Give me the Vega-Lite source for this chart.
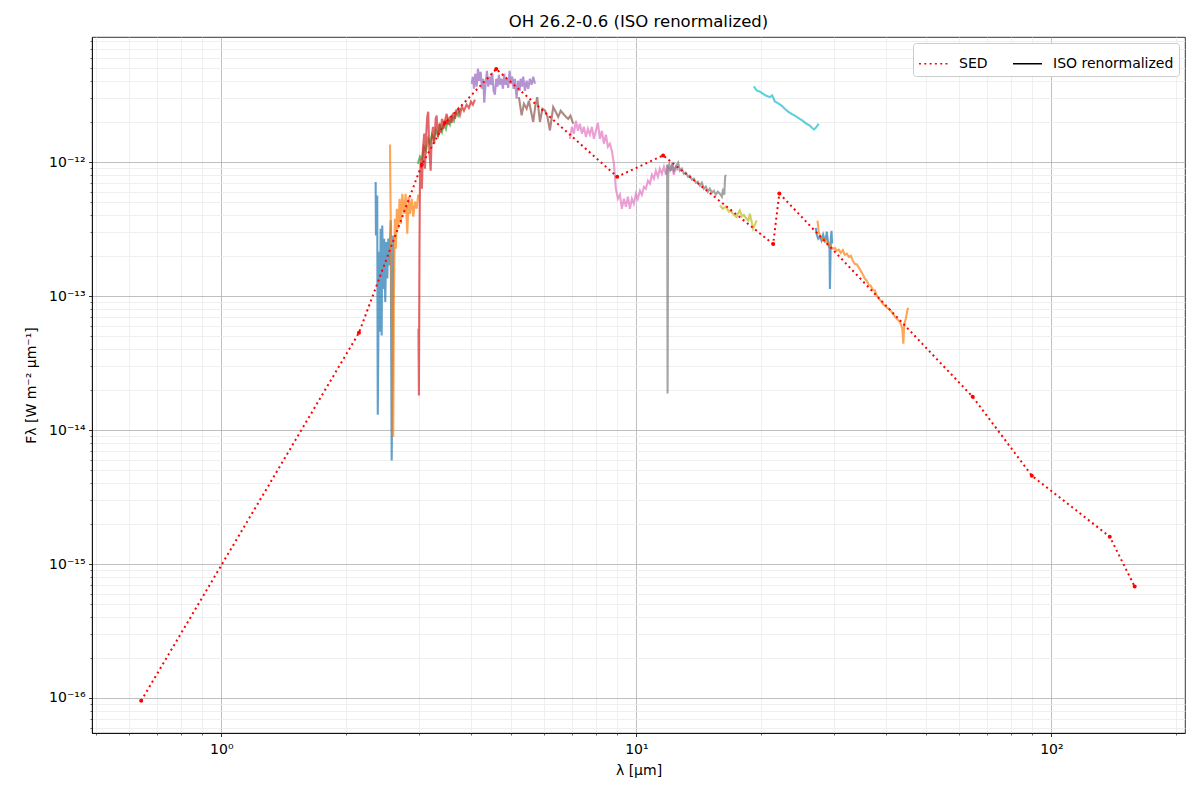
{
  "$schema": "https://vega.github.io/schema/vega-lite/v6.json",
  "width": 1093,
  "height": 696,
  "autosize": "none",
  "padding": {"left": 92, "top": 37, "right": 15, "bottom": 67},
  "background": "white",
  "title": {"text": "OH 26.2-0.6 (ISO renormalized)", "font": "DejaVu Sans", "fontSize": 16.5, "fontWeight": "normal", "color": "black", "offset": 4},
  "datasets": {
    "spec": [
      {"band": "1A", "lam": 2.354, "flux": 7.09e-13}, {"band": "1A", "lam": 2.358, "flux": 2.83e-13}, {"band": "1A", "lam": 2.375, "flux": 5.63e-13},
      {"band": "1A", "lam": 2.379, "flux": 5.08e-14}, {"band": "1A", "lam": 2.382, "flux": 1.30e-14}, {"band": "1A", "lam": 2.398, "flux": 2.14e-13},
      {"band": "1A", "lam": 2.411, "flux": 5.42e-14}, {"band": "1A", "lam": 2.420, "flux": 3.18e-13}, {"band": "1A", "lam": 2.434, "flux": 5.08e-14},
      {"band": "1A", "lam": 2.442, "flux": 3.36e-13}, {"band": "1A", "lam": 2.456, "flux": 1.13e-13}, {"band": "1A", "lam": 2.469, "flux": 2.68e-13},
      {"band": "1A", "lam": 2.483, "flux": 9.02e-14}, {"band": "1A", "lam": 2.497, "flux": 2.53e-13}, {"band": "1A", "lam": 2.511, "flux": 1.35e-13},
      {"band": "1A", "lam": 2.525, "flux": 2.68e-13}, {"band": "1A", "lam": 2.539, "flux": 1.69e-13}, {"band": "1A", "lam": 2.559, "flux": 3.67e-13},
      {"band": "1A", "lam": 2.573, "flux": 5.93e-15}, {"band": "1A", "lam": 2.587, "flux": 3.60e-14}, {"band": "1A", "lam": 2.595, "flux": 2.83e-13},

      {"band": "1B", "lam": 2.549, "flux": 1.35e-12}, {"band": "1B", "lam": 2.556, "flux": 5.32e-13}, {"band": "1B", "lam": 2.563, "flux": 2.68e-13},
      {"band": "1B", "lam": 2.577, "flux": 5.70e-14}, {"band": "1B", "lam": 2.595, "flux": 8.91e-15}, {"band": "1B", "lam": 2.605, "flux": 9.55e-14},
      {"band": "1B", "lam": 2.619, "flux": 3.77e-13}, {"band": "1B", "lam": 2.634, "flux": 2.25e-13}, {"band": "1B", "lam": 2.648, "flux": 4.48e-13},
      {"band": "1B", "lam": 2.668, "flux": 3.18e-13}, {"band": "1B", "lam": 2.689, "flux": 5.32e-13}, {"band": "1B", "lam": 2.709, "flux": 3.46e-13},
      {"band": "1B", "lam": 2.729, "flux": 5.80e-13}, {"band": "1B", "lam": 2.755, "flux": 4.11e-13}, {"band": "1B", "lam": 2.780, "flux": 5.80e-13},
      {"band": "1B", "lam": 2.805, "flux": 2.92e-13}, {"band": "1B", "lam": 2.827, "flux": 5.51e-13}, {"band": "1B", "lam": 2.848, "flux": 4.11e-13},
      {"band": "1B", "lam": 2.875, "flux": 5.32e-13}, {"band": "1B", "lam": 2.901, "flux": 3.91e-13}, {"band": "1B", "lam": 2.928, "flux": 5.06e-13},
      {"band": "1B", "lam": 2.956, "flux": 4.48e-13}, {"band": "1B", "lam": 2.982, "flux": 5.70e-13},

      {"band": "1D", "lam": 2.977, "flux": 9.71e-13}, {"band": "1D", "lam": 3.010, "flux": 1.10e-12}, {"band": "1D", "lam": 3.043, "flux": 1.06e-12},
      {"band": "1D", "lam": 3.077, "flux": 1.30e-12}, {"band": "1D", "lam": 3.112, "flux": 1.21e-12}, {"band": "1D", "lam": 3.147, "flux": 1.49e-12},
      {"band": "1D", "lam": 3.182, "flux": 1.37e-12}, {"band": "1D", "lam": 3.217, "flux": 1.60e-12}, {"band": "1D", "lam": 3.253, "flux": 1.47e-12},
      {"band": "1D", "lam": 3.290, "flux": 1.74e-12}, {"band": "1D", "lam": 3.326, "flux": 1.57e-12}, {"band": "1D", "lam": 3.363, "flux": 1.87e-12},
      {"band": "1D", "lam": 3.401, "flux": 1.68e-12}, {"band": "1D", "lam": 3.439, "flux": 1.96e-12}, {"band": "1D", "lam": 3.477, "flux": 1.77e-12},
      {"band": "1D", "lam": 3.516, "flux": 2.07e-12}, {"band": "1D", "lam": 3.555, "flux": 1.90e-12}, {"band": "1D", "lam": 3.594, "flux": 2.18e-12},
      {"band": "1D", "lam": 3.635, "flux": 2.03e-12}, {"band": "1D", "lam": 3.675, "flux": 2.37e-12}, {"band": "1D", "lam": 3.716, "flux": 2.22e-12},
      {"band": "1D", "lam": 3.758, "flux": 2.53e-12},

      {"band": "1E", "lam": 2.985, "flux": 5.70e-14}, {"band": "1E", "lam": 2.993, "flux": 1.81e-14}, {"band": "1E", "lam": 3.002, "flux": 2.25e-13},
      {"band": "1E", "lam": 3.010, "flux": 7.51e-13}, {"band": "1E", "lam": 3.027, "flux": 1.06e-12}, {"band": "1E", "lam": 3.043, "flux": 6.32e-13},
      {"band": "1E", "lam": 3.060, "flux": 1.26e-12}, {"band": "1E", "lam": 3.083, "flux": 1.63e-12}, {"band": "1E", "lam": 3.095, "flux": 8.91e-13},
      {"band": "1E", "lam": 3.112, "flux": 1.49e-12}, {"band": "1E", "lam": 3.134, "flux": 2.18e-12}, {"band": "1E", "lam": 3.151, "flux": 2.37e-12},
      {"band": "1E", "lam": 3.169, "flux": 1.26e-12}, {"band": "1E", "lam": 3.194, "flux": 8.61e-13}, {"band": "1E", "lam": 3.212, "flux": 1.49e-12},
      {"band": "1E", "lam": 3.235, "flux": 1.83e-12}, {"band": "1E", "lam": 3.258, "flux": 1.37e-12}, {"band": "1E", "lam": 3.284, "flux": 2.10e-12},
      {"band": "1E", "lam": 3.302, "flux": 2.22e-12}, {"band": "1E", "lam": 3.326, "flux": 1.54e-12}, {"band": "1E", "lam": 3.350, "flux": 1.93e-12},
      {"band": "1E", "lam": 3.376, "flux": 1.65e-12}, {"band": "1E", "lam": 3.401, "flux": 2.10e-12}, {"band": "1E", "lam": 3.425, "flux": 1.77e-12},
      {"band": "1E", "lam": 3.458, "flux": 2.03e-12}, {"band": "1E", "lam": 3.491, "flux": 2.29e-12}, {"band": "1E", "lam": 3.522, "flux": 1.90e-12},
      {"band": "1E", "lam": 3.555, "flux": 2.18e-12}, {"band": "1E", "lam": 3.589, "flux": 1.96e-12}, {"band": "1E", "lam": 3.621, "flux": 2.33e-12},
      {"band": "1E", "lam": 3.655, "flux": 2.10e-12}, {"band": "1E", "lam": 3.690, "flux": 2.41e-12}, {"band": "1E", "lam": 3.722, "flux": 2.50e-12},
      {"band": "1E", "lam": 3.758, "flux": 2.25e-12}, {"band": "1E", "lam": 3.800, "flux": 2.59e-12}, {"band": "1E", "lam": 3.842, "flux": 2.41e-12},
      {"band": "1E", "lam": 3.900, "flux": 2.68e-12}, {"band": "1E", "lam": 3.950, "flux": 2.53e-12}, {"band": "1E", "lam": 3.994, "flux": 2.82e-12},
      {"band": "1E", "lam": 4.038, "flux": 2.68e-12}, {"band": "1E", "lam": 4.083, "flux": 2.92e-12},

      {"band": "2A", "lam": 4.010, "flux": 3.84e-12}, {"band": "2A", "lam": 4.038, "flux": 4.33e-12}, {"band": "2A", "lam": 4.061, "flux": 3.52e-12},
      {"band": "2A", "lam": 4.090, "flux": 4.56e-12}, {"band": "2A", "lam": 4.122, "flux": 3.65e-12}, {"band": "2A", "lam": 4.152, "flux": 4.97e-12},
      {"band": "2A", "lam": 4.182, "flux": 4.04e-12}, {"band": "2A", "lam": 4.215, "flux": 4.72e-12}, {"band": "2A", "lam": 4.246, "flux": 3.52e-12},
      {"band": "2A", "lam": 4.276, "flux": 4.18e-12}, {"band": "2A", "lam": 4.300, "flux": 2.77e-12}, {"band": "2A", "lam": 4.333, "flux": 3.84e-12},
      {"band": "2A", "lam": 4.365, "flux": 4.80e-12}, {"band": "2A", "lam": 4.396, "flux": 3.65e-12}, {"band": "2A", "lam": 4.430, "flux": 4.33e-12},
      {"band": "2A", "lam": 4.462, "flux": 3.77e-12}, {"band": "2A", "lam": 4.495, "flux": 4.64e-12}, {"band": "2A", "lam": 4.529, "flux": 3.40e-12},
      {"band": "2A", "lam": 4.562, "flux": 3.18e-12}, {"band": "2A", "lam": 4.596, "flux": 4.18e-12}, {"band": "2A", "lam": 4.631, "flux": 3.65e-12},
      {"band": "2A", "lam": 4.665, "flux": 4.48e-12}, {"band": "2A", "lam": 4.699, "flux": 3.77e-12}, {"band": "2A", "lam": 4.735, "flux": 4.18e-12},
      {"band": "2A", "lam": 4.770, "flux": 3.52e-12}, {"band": "2A", "lam": 4.804, "flux": 4.56e-12}, {"band": "2A", "lam": 4.841, "flux": 3.77e-12},
      {"band": "2A", "lam": 4.877, "flux": 4.18e-12}, {"band": "2A", "lam": 4.912, "flux": 3.58e-12}, {"band": "2A", "lam": 4.950, "flux": 4.80e-12},
      {"band": "2A", "lam": 4.986, "flux": 3.84e-12}, {"band": "2A", "lam": 5.022, "flux": 4.33e-12}, {"band": "2A", "lam": 5.061, "flux": 3.52e-12},
      {"band": "2A", "lam": 5.097, "flux": 4.18e-12}, {"band": "2A", "lam": 5.146, "flux": 2.97e-12}, {"band": "2A", "lam": 5.183, "flux": 4.04e-12},
      {"band": "2A", "lam": 5.232, "flux": 3.40e-12}, {"band": "2A", "lam": 5.261, "flux": 4.18e-12}, {"band": "2A", "lam": 5.300, "flux": 3.65e-12},
      {"band": "2A", "lam": 5.338, "flux": 4.33e-12}, {"band": "2A", "lam": 5.388, "flux": 3.40e-12}, {"band": "2A", "lam": 5.440, "flux": 4.04e-12},
      {"band": "2A", "lam": 5.488, "flux": 3.52e-12}, {"band": "2A", "lam": 5.540, "flux": 4.18e-12}, {"band": "2A", "lam": 5.593, "flux": 3.77e-12},
      {"band": "2A", "lam": 5.642, "flux": 4.33e-12}, {"band": "2A", "lam": 5.696, "flux": 3.84e-12},

      {"band": "2B", "lam": 5.212, "flux": 3.05e-12}, {"band": "2B", "lam": 5.291, "flux": 2.23e-12}, {"band": "2B", "lam": 5.358, "flux": 2.72e-12},
      {"band": "2B", "lam": 5.440, "flux": 2.50e-12}, {"band": "2B", "lam": 5.509, "flux": 2.87e-12}, {"band": "2B", "lam": 5.571, "flux": 2.41e-12},
      {"band": "2B", "lam": 5.642, "flux": 1.99e-12}, {"band": "2B", "lam": 5.705, "flux": 2.59e-12}, {"band": "2B", "lam": 5.769, "flux": 3.05e-12},
      {"band": "2B", "lam": 5.856, "flux": 1.99e-12}, {"band": "2B", "lam": 5.938, "flux": 2.50e-12}, {"band": "2B", "lam": 6.020, "flux": 2.43e-12},
      {"band": "2B", "lam": 6.105, "flux": 2.18e-12}, {"band": "2B", "lam": 6.190, "flux": 1.72e-12}, {"band": "2B", "lam": 6.304, "flux": 2.57e-12},
      {"band": "2B", "lam": 6.392, "flux": 2.37e-12}, {"band": "2B", "lam": 6.481, "flux": 2.17e-12}, {"band": "2B", "lam": 6.572, "flux": 2.41e-12},
      {"band": "2B", "lam": 6.664, "flux": 2.29e-12}, {"band": "2B", "lam": 6.762, "flux": 2.18e-12}, {"band": "2B", "lam": 6.851, "flux": 2.10e-12},
      {"band": "2B", "lam": 6.935, "flux": 2.22e-12}, {"band": "2B", "lam": 7.044, "flux": 1.93e-12},

      {"band": "2C", "lam": 6.916, "flux": 1.49e-12}, {"band": "2C", "lam": 6.993, "flux": 1.83e-12}, {"band": "2C", "lam": 7.071, "flux": 1.63e-12},
      {"band": "2C", "lam": 7.150, "flux": 2.03e-12}, {"band": "2C", "lam": 7.230, "flux": 1.71e-12}, {"band": "2C", "lam": 7.310, "flux": 1.93e-12},
      {"band": "2C", "lam": 7.392, "flux": 1.63e-12}, {"band": "2C", "lam": 7.474, "flux": 1.83e-12}, {"band": "2C", "lam": 7.557, "flux": 1.54e-12},
      {"band": "2C", "lam": 7.642, "flux": 1.77e-12}, {"band": "2C", "lam": 7.727, "flux": 1.60e-12}, {"band": "2C", "lam": 7.813, "flux": 1.83e-12},
      {"band": "2C", "lam": 7.900, "flux": 1.49e-12}, {"band": "2C", "lam": 7.988, "flux": 1.71e-12}, {"band": "2C", "lam": 8.078, "flux": 1.96e-12},
      {"band": "2C", "lam": 8.168, "flux": 1.49e-12}, {"band": "2C", "lam": 8.259, "flux": 1.71e-12}, {"band": "2C", "lam": 8.351, "flux": 1.37e-12},
      {"band": "2C", "lam": 8.444, "flux": 1.60e-12}, {"band": "2C", "lam": 8.538, "flux": 1.30e-12}, {"band": "2C", "lam": 8.633, "flux": 1.37e-12},
      {"band": "2C", "lam": 8.730, "flux": 1.21e-12}, {"band": "2C", "lam": 8.827, "flux": 9.71e-13}, {"band": "2C", "lam": 8.925, "flux": 6.32e-13},
      {"band": "2C", "lam": 9.025, "flux": 5.32e-13}, {"band": "2C", "lam": 9.126, "flux": 5.70e-13}, {"band": "2C", "lam": 9.227, "flux": 4.48e-13},
      {"band": "2C", "lam": 9.330, "flux": 5.32e-13}, {"band": "2C", "lam": 9.434, "flux": 4.64e-13}, {"band": "2C", "lam": 9.540, "flux": 5.51e-13},
      {"band": "2C", "lam": 9.646, "flux": 4.48e-13}, {"band": "2C", "lam": 9.754, "flux": 5.32e-13}, {"band": "2C", "lam": 9.862, "flux": 4.88e-13},
      {"band": "2C", "lam": 9.972, "flux": 5.80e-13}, {"band": "2C", "lam": 10.08, "flux": 5.32e-13}, {"band": "2C", "lam": 10.20, "flux": 6.11e-13},
      {"band": "2C", "lam": 10.31, "flux": 5.70e-13}, {"band": "2C", "lam": 10.43, "flux": 6.54e-13}, {"band": "2C", "lam": 10.54, "flux": 6.32e-13},
      {"band": "2C", "lam": 10.66, "flux": 7.25e-13}, {"band": "2C", "lam": 10.78, "flux": 6.89e-13}, {"band": "2C", "lam": 10.90, "flux": 8.04e-13},
      {"band": "2C", "lam": 11.02, "flux": 7.51e-13}, {"band": "2C", "lam": 11.14, "flux": 8.61e-13}, {"band": "2C", "lam": 11.27, "flux": 7.77e-13},
      {"band": "2C", "lam": 11.39, "flux": 8.91e-13}, {"band": "2C", "lam": 11.52, "flux": 8.18e-13}, {"band": "2C", "lam": 11.65, "flux": 9.22e-13},
      {"band": "2C", "lam": 11.78, "flux": 8.04e-13}, {"band": "2C", "lam": 11.91, "flux": 9.22e-13}, {"band": "2C", "lam": 12.04, "flux": 8.61e-13},
      {"band": "2C", "lam": 12.18, "flux": 9.55e-13}, {"band": "2C", "lam": 12.31, "flux": 8.04e-13}, {"band": "2C", "lam": 12.45, "flux": 9.22e-13},
      {"band": "2C", "lam": 12.59, "flux": 8.61e-13},

      {"band": "3A", "lam": 11.82, "flux": 8.18e-13}, {"band": "3A", "lam": 11.86, "flux": 9.55e-13}, {"band": "3A", "lam": 11.89, "flux": 1.87e-14},
      {"band": "3A", "lam": 11.93, "flux": 8.91e-13}, {"band": "3A", "lam": 12.00, "flux": 9.55e-13}, {"band": "3A", "lam": 12.11, "flux": 8.61e-13},
      {"band": "3A", "lam": 12.22, "flux": 9.71e-13}, {"band": "3A", "lam": 12.31, "flux": 8.61e-13}, {"band": "3A", "lam": 12.45, "flux": 9.22e-13},
      {"band": "3A", "lam": 12.61, "flux": 9.88e-13}, {"band": "3A", "lam": 12.73, "flux": 8.61e-13}, {"band": "3A", "lam": 12.87, "flux": 8.91e-13},
      {"band": "3A", "lam": 13.01, "flux": 8.18e-13}, {"band": "3A", "lam": 13.16, "flux": 8.32e-13}, {"band": "3A", "lam": 13.31, "flux": 7.77e-13},
      {"band": "3A", "lam": 13.45, "flux": 7.90e-13}, {"band": "3A", "lam": 13.60, "flux": 7.38e-13}, {"band": "3A", "lam": 13.76, "flux": 7.51e-13},
      {"band": "3A", "lam": 13.91, "flux": 7.01e-13}, {"band": "3A", "lam": 14.07, "flux": 7.13e-13}, {"band": "3A", "lam": 14.22, "flux": 6.66e-13},
      {"band": "3A", "lam": 14.38, "flux": 7.01e-13}, {"band": "3A", "lam": 14.54, "flux": 6.32e-13}, {"band": "3A", "lam": 14.70, "flux": 6.54e-13},
      {"band": "3A", "lam": 14.87, "flux": 6.00e-13}, {"band": "3A", "lam": 15.03, "flux": 6.32e-13}, {"band": "3A", "lam": 15.20, "flux": 5.90e-13},
      {"band": "3A", "lam": 15.37, "flux": 6.11e-13}, {"band": "3A", "lam": 15.54, "flux": 5.70e-13}, {"band": "3A", "lam": 15.71, "flux": 6.00e-13},
      {"band": "3A", "lam": 15.89, "flux": 5.80e-13}, {"band": "3A", "lam": 16.07, "flux": 5.51e-13}, {"band": "3A", "lam": 16.18, "flux": 6.32e-13},
      {"band": "3A", "lam": 16.29, "flux": 5.70e-13}, {"band": "3A", "lam": 16.36, "flux": 7.77e-13}, {"band": "3A", "lam": 16.42, "flux": 8.04e-13},

      {"band": "3C", "lam": 15.89, "flux": 4.74e-13}, {"band": "3C", "lam": 16.16, "flux": 4.48e-13}, {"band": "3C", "lam": 16.42, "flux": 4.64e-13},
      {"band": "3C", "lam": 16.70, "flux": 4.26e-13}, {"band": "3C", "lam": 16.84, "flux": 4.35e-13}, {"band": "3C", "lam": 17.17, "flux": 4.04e-13},
      {"band": "3C", "lam": 17.43, "flux": 3.89e-13}, {"band": "3C", "lam": 17.61, "flux": 4.18e-13}, {"band": "3C", "lam": 17.75, "flux": 4.35e-13},
      {"band": "3C", "lam": 17.95, "flux": 3.91e-13}, {"band": "3C", "lam": 18.15, "flux": 4.04e-13}, {"band": "3C", "lam": 18.43, "flux": 3.77e-13},
      {"band": "3C", "lam": 18.61, "flux": 3.65e-13}, {"band": "3C", "lam": 18.77, "flux": 4.11e-13}, {"band": "3C", "lam": 18.98, "flux": 3.52e-13},
      {"band": "3C", "lam": 19.11, "flux": 3.18e-13}, {"band": "3C", "lam": 19.29, "flux": 3.40e-13}, {"band": "3C", "lam": 19.48, "flux": 3.67e-13},

      {"band": "3D", "lam": 19.19, "flux": 3.67e-12}, {"band": "3D", "lam": 19.48, "flux": 3.42e-12}, {"band": "3D", "lam": 19.84, "flux": 3.35e-12},
      {"band": "3D", "lam": 20.20, "flux": 3.23e-12}, {"band": "3D", "lam": 20.56, "flux": 3.12e-12}, {"band": "3D", "lam": 20.97, "flux": 3.05e-12},
      {"band": "3D", "lam": 21.24, "flux": 3.14e-12}, {"band": "3D", "lam": 21.56, "flux": 2.83e-12}, {"band": "3D", "lam": 21.92, "flux": 2.75e-12},
      {"band": "3D", "lam": 22.37, "flux": 2.64e-12}, {"band": "3D", "lam": 22.78, "flux": 2.50e-12}, {"band": "3D", "lam": 23.17, "flux": 2.39e-12},
      {"band": "3D", "lam": 23.65, "flux": 2.29e-12}, {"band": "3D", "lam": 24.08, "flux": 2.22e-12}, {"band": "3D", "lam": 24.76, "flux": 2.10e-12},
      {"band": "3D", "lam": 25.18, "flux": 2.03e-12}, {"band": "3D", "lam": 25.70, "flux": 1.93e-12}, {"band": "3D", "lam": 26.17, "flux": 1.87e-12},
      {"band": "3D", "lam": 26.47, "flux": 1.80e-12}, {"band": "3D", "lam": 26.80, "flux": 1.75e-12}, {"band": "3D", "lam": 27.06, "flux": 1.80e-12},
      {"band": "3D", "lam": 27.29, "flux": 1.87e-12}, {"band": "3D", "lam": 27.51, "flux": 1.93e-12},

      {"band": "3E", "lam": 27.06, "flux": 3.23e-13}, {"band": "3E", "lam": 27.21, "flux": 2.87e-13}, {"band": "3E", "lam": 27.42, "flux": 2.68e-13},
      {"band": "3E", "lam": 27.67, "flux": 2.77e-13}, {"band": "3E", "lam": 27.93, "flux": 2.59e-13}, {"band": "3E", "lam": 28.18, "flux": 2.87e-13},
      {"band": "3E", "lam": 28.44, "flux": 2.59e-13}, {"band": "3E", "lam": 28.61, "flux": 2.68e-13}, {"band": "3E", "lam": 28.76, "flux": 3.02e-13},
      {"band": "3E", "lam": 28.97, "flux": 2.46e-13}, {"band": "3E", "lam": 29.20, "flux": 2.25e-13}, {"band": "3E", "lam": 29.26, "flux": 1.13e-13},
      {"band": "3E", "lam": 29.41, "flux": 2.68e-13}, {"band": "3E", "lam": 29.52, "flux": 3.07e-13}, {"band": "3E", "lam": 29.62, "flux": 2.46e-13},

      {"band": "4", "lam": 27.32, "flux": 3.65e-13}, {"band": "4", "lam": 27.51, "flux": 2.97e-13}, {"band": "4", "lam": 27.82, "flux": 2.77e-13},
      {"band": "4", "lam": 28.13, "flux": 2.63e-13}, {"band": "4", "lam": 28.45, "flux": 2.68e-13}, {"band": "4", "lam": 28.76, "flux": 2.46e-13},
      {"band": "4", "lam": 29.08, "flux": 2.50e-13}, {"band": "4", "lam": 29.41, "flux": 2.33e-13}, {"band": "4", "lam": 29.74, "flux": 2.25e-13},
      {"band": "4", "lam": 30.07, "flux": 2.29e-13}, {"band": "4", "lam": 30.40, "flux": 2.18e-13}, {"band": "4", "lam": 30.74, "flux": 2.22e-13},
      {"band": "4", "lam": 31.08, "flux": 2.10e-13}, {"band": "4", "lam": 31.43, "flux": 2.20e-13}, {"band": "4", "lam": 31.78, "flux": 2.03e-13},
      {"band": "4", "lam": 32.14, "flux": 2.07e-13}, {"band": "4", "lam": 32.49, "flux": 1.96e-13}, {"band": "4", "lam": 32.86, "flux": 2.00e-13},
      {"band": "4", "lam": 33.22, "flux": 1.83e-13}, {"band": "4", "lam": 33.59, "flux": 1.74e-13}, {"band": "4", "lam": 33.97, "flux": 1.72e-13},
      {"band": "4", "lam": 34.35, "flux": 1.63e-13}, {"band": "4", "lam": 34.73, "flux": 1.54e-13}, {"band": "4", "lam": 35.12, "flux": 1.45e-13},
      {"band": "4", "lam": 35.51, "flux": 1.35e-13}, {"band": "4", "lam": 35.91, "flux": 1.30e-13}, {"band": "4", "lam": 36.31, "flux": 1.21e-13},
      {"band": "4", "lam": 36.71, "flux": 1.19e-13}, {"band": "4", "lam": 37.12, "flux": 1.11e-13}, {"band": "4", "lam": 37.54, "flux": 1.10e-13},
      {"band": "4", "lam": 37.95, "flux": 1.01e-13}, {"band": "4", "lam": 38.38, "flux": 9.55e-14}, {"band": "4", "lam": 38.80, "flux": 9.22e-14},
      {"band": "4", "lam": 39.24, "flux": 8.76e-14}, {"band": "4", "lam": 39.68, "flux": 8.47e-14}, {"band": "4", "lam": 40.12, "flux": 8.18e-14},
      {"band": "4", "lam": 40.56, "flux": 8.04e-14}, {"band": "4", "lam": 41.02, "flux": 7.77e-14}, {"band": "4", "lam": 41.47, "flux": 7.38e-14},
      {"band": "4", "lam": 41.94, "flux": 7.01e-14}, {"band": "4", "lam": 42.41, "flux": 6.77e-14}, {"band": "4", "lam": 42.88, "flux": 6.54e-14},
      {"band": "4", "lam": 43.36, "flux": 6.21e-14}, {"band": "4", "lam": 43.72, "flux": 5.70e-14}, {"band": "4", "lam": 43.96, "flux": 4.41e-14},
      {"band": "4", "lam": 44.21, "flux": 6.21e-14}, {"band": "4", "lam": 44.58, "flux": 6.77e-14}, {"band": "4", "lam": 44.95, "flux": 7.77e-14},
      {"band": "4", "lam": 45.15, "flux": 8.18e-14}
    ],
    "sed": [
      {"series": "SED", "lam": 0.641, "flux": 9.54e-17},
      {"series": "SED", "lam": 2.146, "flux": 5.32e-14},
      {"series": "SED", "lam": 3.04, "flux": 9.55e-13},
      {"series": "SED", "lam": 3.46, "flux": 1.96e-12},
      {"series": "SED", "lam": 4.596, "flux": 4.94e-12},
      {"series": "SED", "lam": 8.99, "flux": 7.76e-13},
      {"series": "SED", "lam": 11.60, "flux": 1.12e-12},
      {"series": "SED", "lam": 21.36, "flux": 2.44e-13},
      {"series": "SED", "lam": 22.10, "flux": 5.83e-13},
      {"series": "SED", "lam": 64.6, "flux": 1.77e-14},
      {"series": "SED", "lam": 89.7, "flux": 4.56e-15},
      {"series": "SED", "lam": 138.2, "flux": 1.60e-15},
      {"series": "SED", "lam": 158.7, "flux": 6.78e-16},
      {"series": "ISO renormalized", "lam": 4.6, "flux": 4.0e-12}
    ]
  },
  "layer": [
    {
      "data": {"name": "spec"},
      "mark": {"type": "line", "strokeWidth": 2.1, "opacity": 0.7},
      "encoding": {
        "x": {
          "field": "lam", "type": "quantitative",
          "scale": {"type": "log", "domain": [0.488, 209.8], "nice": false},
          "axis": {
            "title": "λ [μm]",
            "values": [0.5, 0.6, 0.7, 0.8, 0.9, 1, 2, 3, 4, 5, 6, 7, 8, 9, 10, 20, 30, 40, 50, 60, 70, 80, 90, 100, 200],
            "labelExpr": "datum.value == 1 ? '10⁰' : datum.value == 10 ? '10¹' : datum.value == 100 ? '10²' : ''",
            "tickSize": {"condition": {"test": "datum.value == 1 || datum.value == 10 || datum.value == 100", "value": 3.5}, "value": 2},
            "tickWidth": {"condition": {"test": "datum.value == 1 || datum.value == 10 || datum.value == 100", "value": 0.8}, "value": 0.6},
            "gridColor": {"condition": {"test": "datum.value == 1 || datum.value == 10 || datum.value == 100", "value": "#b0b0b0"}, "value": "#ebebeb"},
            "labelPadding": 6,
            "titlePadding": 7
          }
        },
        "y": {
          "field": "flux", "type": "quantitative",
          "scale": {"type": "log", "domain": [5.48e-17, 8.57e-12], "nice": false},
          "axis": {
            "title": "Fλ [W m⁻² μm⁻¹]",
            "values": [6e-17, 7e-17, 8e-17, 9e-17, 1e-16, 2e-16, 3e-16, 4e-16, 5e-16, 6e-16, 7e-16, 8e-16, 9e-16, 1e-15, 2e-15, 3e-15, 4e-15, 5e-15, 6e-15, 7e-15, 8e-15, 9e-15, 1e-14, 2e-14, 3e-14, 4e-14, 5e-14, 6e-14, 7e-14, 8e-14, 9e-14, 1e-13, 2e-13, 3e-13, 4e-13, 5e-13, 6e-13, 7e-13, 8e-13, 9e-13, 1e-12, 2e-12, 3e-12, 4e-12, 5e-12, 6e-12, 7e-12, 8e-12],
            "labelExpr": "abs(log(datum.value)/LN10 - round(log(datum.value)/LN10)) < 0.01 ? '10' + {'-16': '⁻¹⁶', '-15': '⁻¹⁵', '-14': '⁻¹⁴', '-13': '⁻¹³', '-12': '⁻¹²'}['' + round(log(datum.value)/LN10)] : ''",
            "tickSize": {"condition": {"test": "abs(log(datum.value)/LN10 - round(log(datum.value)/LN10)) < 0.01", "value": 3.5}, "value": 2},
            "tickWidth": {"condition": {"test": "abs(log(datum.value)/LN10 - round(log(datum.value)/LN10)) < 0.01", "value": 0.8}, "value": 0.6},
            "gridColor": {"condition": {"test": "abs(log(datum.value)/LN10 - round(log(datum.value)/LN10)) < 0.01", "value": "#b0b0b0"}, "value": "#ebebeb"},
            "titlePadding": 10
          }
        },
        "color": {
          "field": "band", "type": "nominal",
          "scale": {
            "domain": ["1A", "1B", "1D", "1E", "2A", "2B", "2C", "3A", "3C", "3D", "3E", "4"],
            "range": ["#1f77b4", "#ff7f0e", "#2ca02c", "#d62728", "#9467bd", "#8c564b", "#e377c2", "#7f7f7f", "#bcbd22", "#17becf", "#1f77b4", "#ff7f0e"]
          },
          "legend": null
        }
      }
    },
    {
      "data": {"name": "sed"},
      "mark": {"type": "line", "strokeWidth": 2},
      "encoding": {
        "x": {"field": "lam", "type": "quantitative", "scale": {"type": "log", "domain": [0.488, 209.8], "nice": false}},
        "y": {"field": "flux", "type": "quantitative", "scale": {"type": "log", "domain": [5.48e-17, 8.57e-12], "nice": false}},
        "color": {
          "field": "series", "type": "nominal",
          "scale": {"domain": ["SED", "ISO renormalized"], "range": ["#ff0000", "#000000"]},
          "legend": {"title": null}
        },
        "strokeDash": {
          "field": "series", "type": "nominal",
          "scale": {"domain": ["SED", "ISO renormalized"], "range": [[2, 3.3], [1, 0]]},
          "legend": {"title": null}
        }
      }
    },
    {
      "data": {"name": "sed"},
      "transform": [{"filter": "datum.series == 'SED'"}],
      "mark": {"type": "point", "filled": true, "color": "#ff0000", "size": 16, "opacity": 1},
      "encoding": {
        "x": {"field": "lam", "type": "quantitative", "scale": {"type": "log", "domain": [0.488, 209.8], "nice": false}},
        "y": {"field": "flux", "type": "quantitative", "scale": {"type": "log", "domain": [5.48e-17, 8.57e-12], "nice": false}}
      }
    }
  ],
  "resolve": {"scale": {"color": "independent", "strokeDash": "independent"}},
  "config": {
    "font": "DejaVu Sans",
    "view": {"stroke": "black", "strokeWidth": 0.8},
    "axis": {
      "grid": true, "gridWidth": 0.8,
      "labelFontSize": 14, "labelColor": "black", "labelPadding": 3.5,
      "labelOverlap": false, "labelFlush": false,
      "titleFontSize": 14, "titleFontWeight": "normal", "titleColor": "black",
      "domainColor": "black", "domainWidth": 0.8, "tickColor": "black"
    },
    "legend": {
      "orient": "top-right", "direction": "horizontal", "offset": 6,
      "symbolType": "stroke", "symbolSize": 841, "symbolStrokeWidth": 1.5,
      "labelFontSize": 14, "labelColor": "black", "labelOffset": 10,
      "columnPadding": 22, "padding": 5,
      "fillColor": "white", "strokeColor": "#cccccc", "cornerRadius": 3
    }
  }
}
